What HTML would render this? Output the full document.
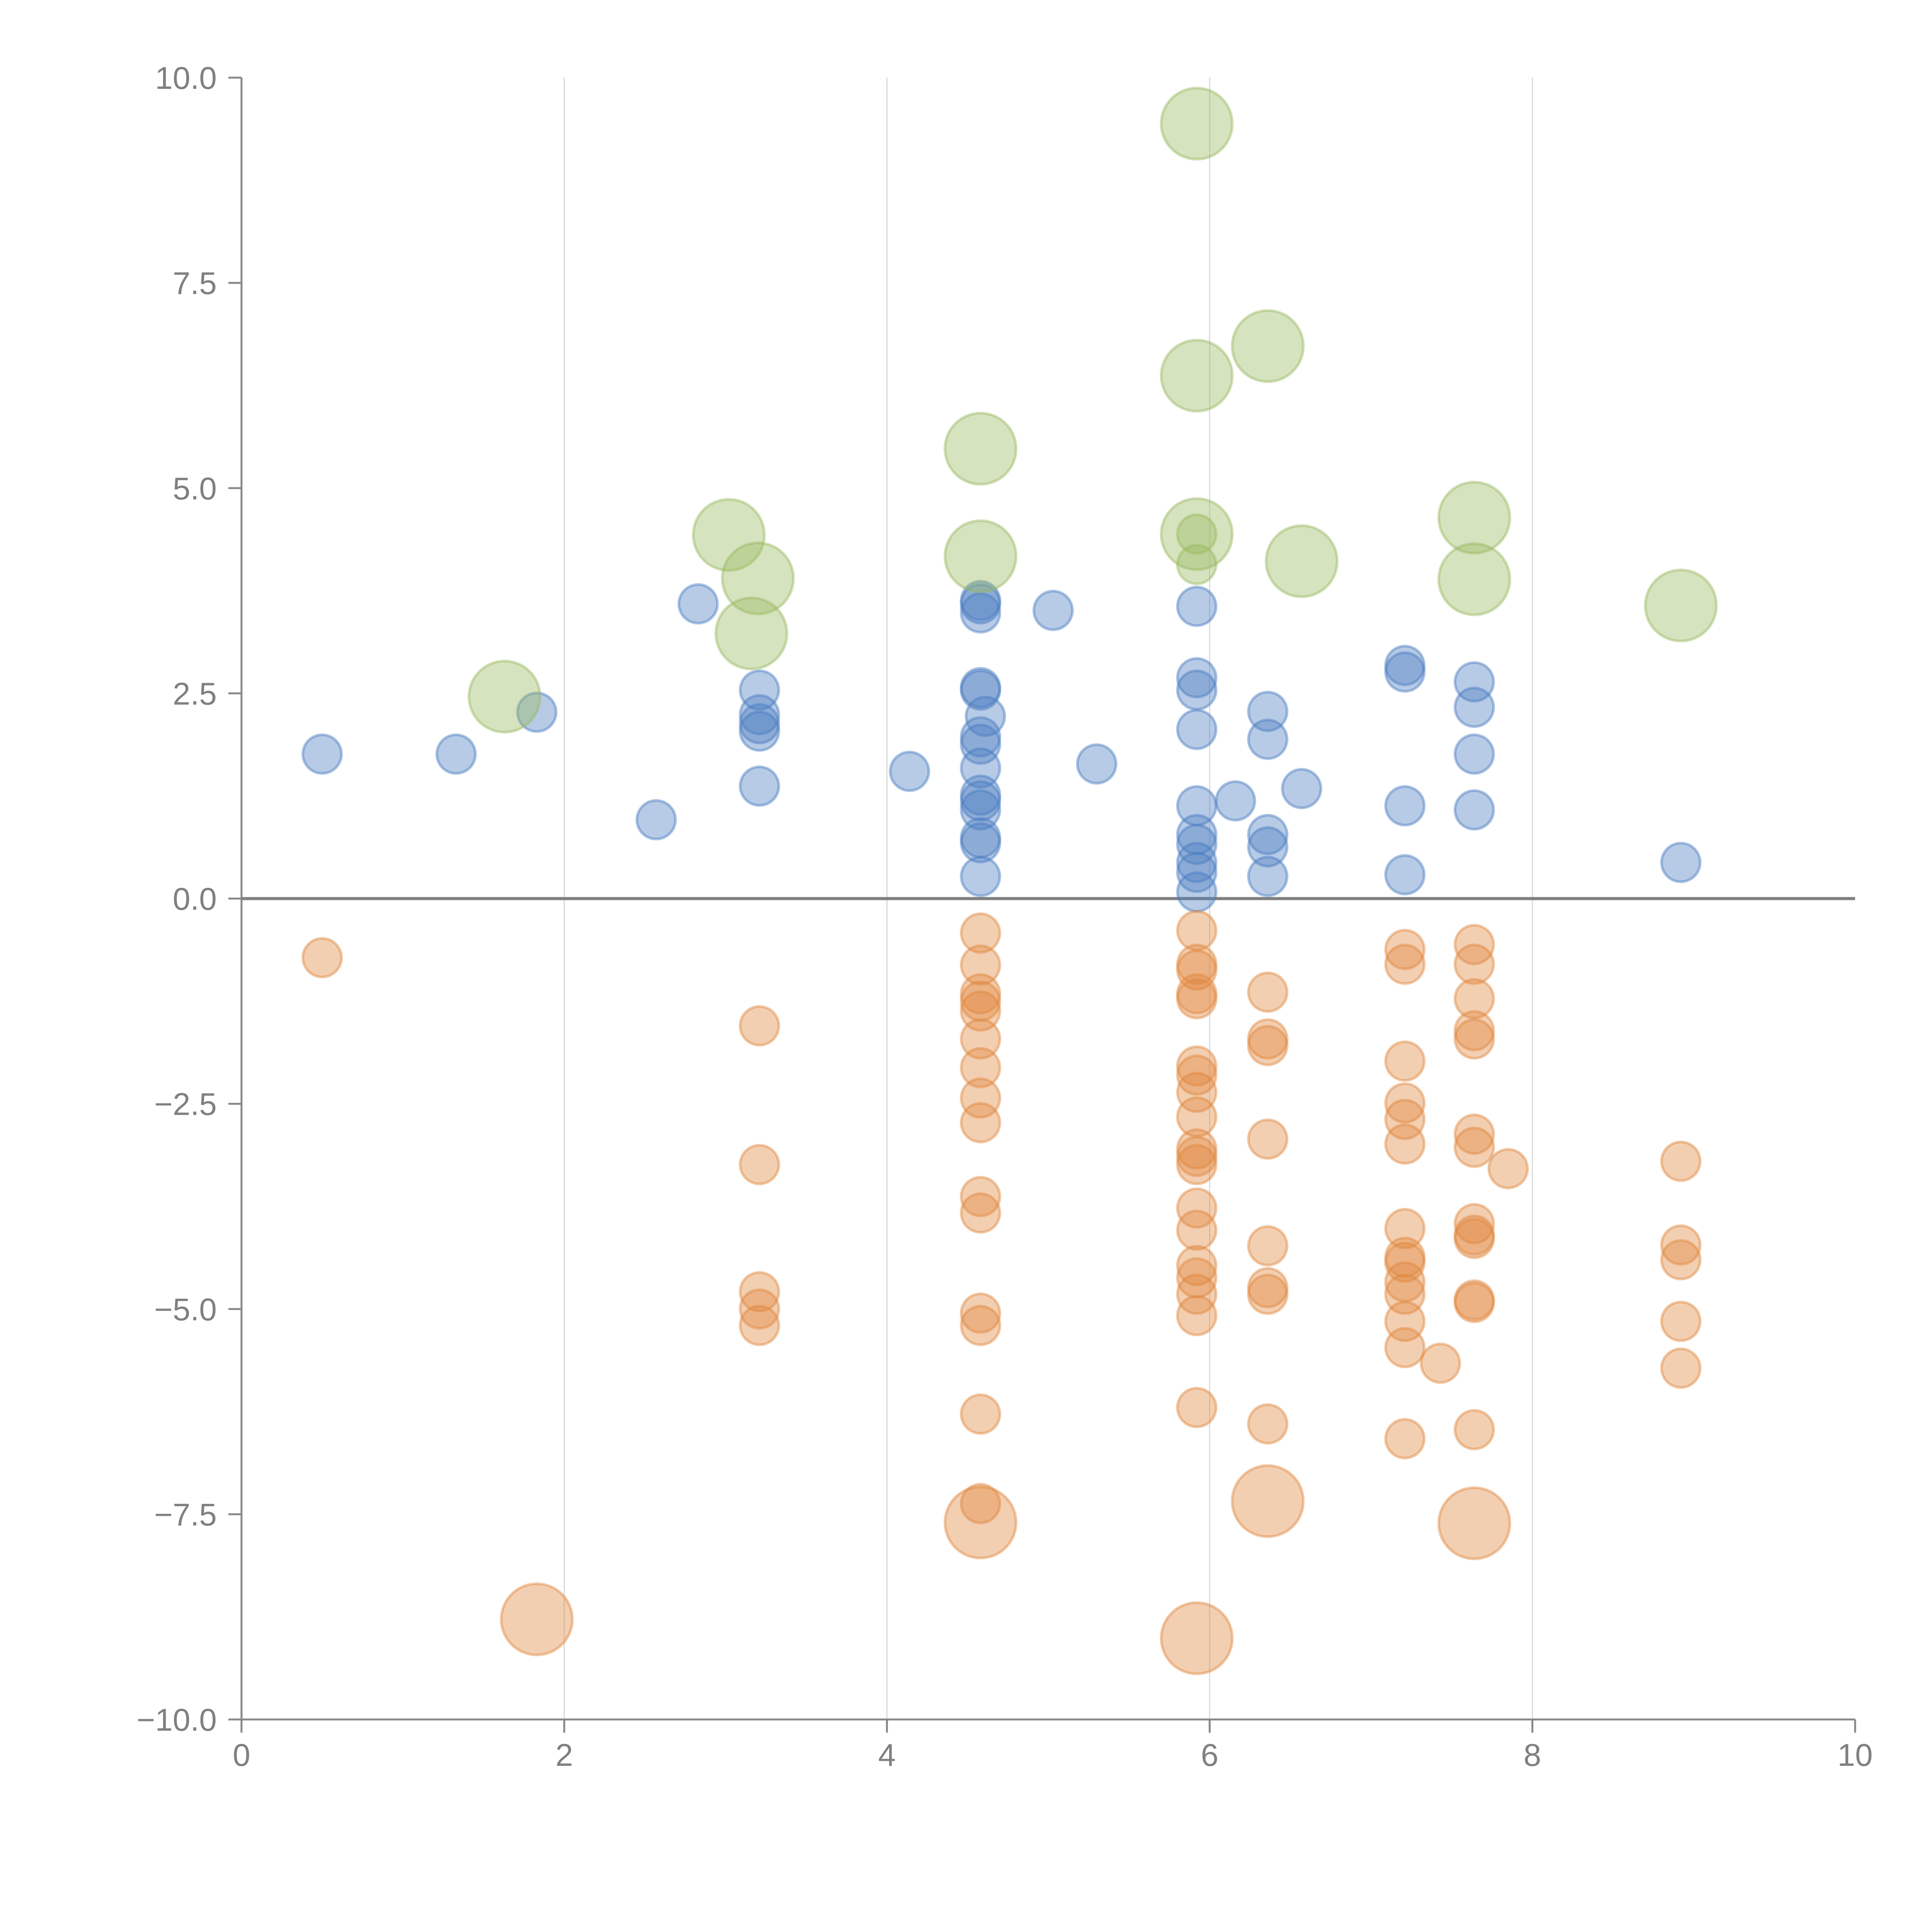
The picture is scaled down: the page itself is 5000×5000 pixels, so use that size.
<!DOCTYPE html>
<html><head><meta charset="utf-8"><style>
html,body{margin:0;padding:0;background:#fff}
svg{display:block}
text{font-family:"Liberation Sans",sans-serif;fill:#808080}
</style></head><body>
<svg id="chart" width="5000" height="5000" viewBox="0 0 5000 5000" xmlns="http://www.w3.org/2000/svg">
<rect width="5000" height="5000" fill="#fff"/>
<g id="grid"></g>
<g id="axes"></g>
<g id="marks"></g>
</svg>
<script>
const xTicks = [0, 2, 4, 6, 8, 10];
const yTicks = [10, 7.5, 5, 2.5, 0, -2.5, -5, -7.5, -10];
const yTickLabels = ["10.0", "7.5", "5.0", "2.5", "0.0", "\u22122.5", "\u22125.0", "\u22127.5", "\u221210.0"];

const blueX = [0.50,1.33,1.83,2.57,2.83,3.21,3.21,3.21,3.21,3.21,4.14,4.58,4.58,4.58,4.58,4.58,4.61,4.58,4.58,4.58,4.58,4.58,4.58,4.58,4.58,4.58,5.03,5.30,5.92,5.92,5.92,5.92,5.92,5.92,5.92,5.92,5.92,5.92,6.16,6.36,6.36,6.36,6.36,6.36,6.57,7.21,7.21,7.21,7.21,7.64,7.64,7.64,7.64,8.92];
const blueY = [1.76,1.76,2.27,0.96,3.59,2.54,2.24,2.13,2.04,1.37,1.55,3.59,3.48,3.63,2.57,2.54,2.22,1.97,1.88,1.59,1.26,1.19,1.08,0.74,0.68,0.27,3.51,1.64,3.56,2.69,2.54,2.06,1.13,0.78,0.66,0.44,0.32,0.08,1.19,2.28,1.94,0.78,0.63,0.27,1.34,2.84,2.76,1.13,0.29,2.64,2.33,1.76,1.08,0.44];

const greenBigX = [1.63,3.02,3.20,3.16,4.58,4.58,5.92,5.92,5.92,6.36,6.57,7.64,7.64,8.92];
const greenBigY = [2.46,4.43,3.90,3.23,5.48,4.17,9.44,6.37,4.44,6.73,4.11,4.64,3.89,3.57];
const greenSmallX = [5.92,5.92];
const greenSmallY = [4.44,4.07];

const orangeX = [0.50,3.21,3.21,3.21,3.21,3.21,
 4.58,4.58,4.58,4.58,4.58,4.58,4.58,4.58,4.58,4.58,4.58,4.58,4.58,4.58,4.58,
 5.92,5.92,5.92,5.92,5.92,5.92,5.92,5.92,5.92,5.92,5.92,5.92,5.92,5.92,5.92,5.92,5.92,5.92,5.92,
 6.36,6.36,6.36,6.36,6.36,6.36,6.36,6.36,
 7.21,7.21,7.21,7.21,7.21,7.21,7.21,7.21,7.21,7.21,7.21,7.21,7.21,7.21,7.43,
 7.64,7.64,7.64,7.64,7.64,7.64,7.64,7.64,7.64,7.64,7.64,7.64,7.64,7.85,
 8.92,8.92,8.92,8.92,8.92];
const orangeY = [-0.72,-1.55,-3.24,-4.79,-5.00,-5.20,
 -0.42,-0.81,-1.16,-1.25,-1.37,-1.71,-2.06,-2.43,-2.73,-3.63,-3.83,-5.05,-5.20,-6.28,-7.37,
 -0.39,-0.80,-0.87,-1.16,-1.22,-2.04,-2.15,-2.36,-2.66,-3.05,-3.14,-3.24,-3.77,-4.04,-4.47,-4.62,-4.82,-5.08,-6.20,
 -1.14,-1.71,-1.79,-2.93,-4.23,-4.74,-4.82,-6.40,
 -0.62,-0.80,-1.98,-2.49,-2.69,-2.99,-4.02,-4.37,-4.43,-4.67,-4.82,-5.15,-5.47,-6.58,-5.66,
 -0.56,-0.80,-1.22,-1.61,-1.71,-2.87,-3.03,-3.96,-4.10,-4.14,-4.89,-4.92,-6.47,-3.29,
 -3.20,-4.22,-4.40,-5.15,-5.72];
const orangeBigX = [1.83,4.58,5.92,6.36,7.64];
const orangeBigY = [-8.78,-7.60,-9.01,-7.34,-7.61];

const NS = "http://www.w3.org/2000/svg";
const X0 = 625, X1 = 4801, Y0 = 4450, Y1 = 201;
function sx(v){ return X0 + (v - 0) / 10 * (X1 - X0); }
function sy(v){ return Y0 - (v + 10) / 20 * (Y0 - Y1); }
function mk(tag, attrs, parent){
  const el = document.createElementNS(NS, tag);
  for (const k in attrs) el.setAttribute(k, attrs[k]);
  parent.appendChild(el);
  return el;
}
const grid = document.getElementById('grid');
const axes = document.getElementById('axes');
const marks = document.getElementById('marks');

xTicks.forEach(function(t){
  if (t > 0 && t < 10) {
    const g = mk('line', {x1: sx(t), x2: sx(t), y1: Y1, y2: Y0, stroke: '#d9d9d9', 'stroke-width': 3}, grid);
    
    
  }
  const tk = mk('line', {x1: sx(t), x2: sx(t), y1: Y0, y2: Y0 + 34, stroke: '#888', 'stroke-width': 5}, axes);
  
  
  const lb = mk('text', {x: sx(t), y: Y0 + 120, 'font-size': 82, 'text-anchor': 'middle'}, axes);
  lb.textContent = String(t);
  
  
});
yTicks.forEach(function(t, i){
  const tk = mk('line', {x1: X0 - 34, x2: X0, y1: sy(t), y2: sy(t), stroke: '#888', 'stroke-width': 5}, axes);
  
  
  const lb = mk('text', {x: X0 - 64, y: sy(t) + 29, 'font-size': 82, 'text-anchor': 'end'}, axes);
  lb.textContent = yTickLabels[i];
  
  
});
const ya = mk('line', {x1: X0, x2: X0, y1: Y1, y2: Y0, stroke: '#888', 'stroke-width': 5}, axes);


const xa = mk('line', {x1: X0, x2: X1, y1: Y0, y2: Y0, stroke: '#888', 'stroke-width': 5}, axes);



function drawSeries(xs, ys, r, color, name){
  xs.forEach(function(x, i){
    const c = mk('circle', {cx: sx(x), cy: sy(ys[i]), r: r, fill: color, 'fill-opacity': 0.4, stroke: color, 'stroke-opacity': 0.45, 'stroke-width': 7}, marks);
    
    
  });
}
drawSeries(blueX, blueY, 50, '#4a7cc0', 'positive-point');
drawSeries(orangeX, orangeY, 50, '#e0883e', 'negative-point');
drawSeries(orangeBigX, orangeBigY, 92, '#e0883e', 'negative-large-bubble');
drawSeries(greenBigX, greenBigY, 92, '#98b95f', 'highlight-large-bubble');
drawSeries(greenSmallX, greenSmallY, 50, '#98b95f', 'highlight-point');

const zl = mk('line', {x1: X0, x2: X1, y1: sy(0), y2: sy(0), stroke: '#808080', 'stroke-width': 8}, axes);


</script>
</body></html>
